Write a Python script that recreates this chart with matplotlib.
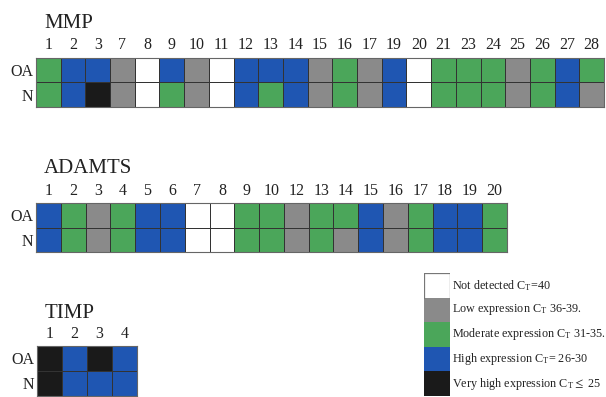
import matplotlib
matplotlib.use("Agg")
import matplotlib.pyplot as plt
import numpy as np
from matplotlib.colors import ListedColormap, BoundaryNorm

plt.rcParams['font.family'] = ['Liberation Serif', 'DejaVu Serif']
plt.rcParams['mathtext.fontset'] = 'stix'

# Expression levels: 0 not detected, 1 low, 2 moderate, 3 high, 4 very high
mmp_labels = ['1', '2', '3', '7', '8', '9', '10', '11', '12', '13', '14', '15',
              '16', '17', '19', '20', '21', '23', '24', '25', '26', '27', '28']
mmp_oa = [2, 3, 3, 1, 0, 3, 1, 0, 3, 3, 3, 1, 2, 1, 3, 0, 2, 2, 2, 1, 2, 3, 2]
mmp_n = [2, 3, 4, 1, 0, 2, 1, 0, 3, 2, 3, 1, 2, 1, 3, 0, 2, 2, 2, 1, 2, 3, 1]

adamts_labels = ['1', '2', '3', '4', '5', '6', '7', '8', '9', '10', '12', '13',
                 '14', '15', '16', '17', '18', '19', '20']
adamts_oa = [3, 2, 1, 2, 3, 3, 0, 0, 2, 2, 1, 2, 2, 3, 1, 2, 3, 3, 2]
adamts_n = [3, 2, 1, 2, 3, 3, 0, 0, 2, 2, 1, 2, 1, 3, 1, 2, 3, 3, 2]

timp_labels = ['1', '2', '3', '4']
timp_oa = [4, 3, 4, 3]
timp_n = [4, 3, 3, 3]

row_labels = ['OA', 'N']
legend_labels = [r'Not detected C$_\mathregular{T}$=40',
                 r'Low expression C$_\mathregular{T}$ 36-39.',
                 r'Moderate expression C$_\mathregular{T}$ 31-35.',
                 r'High expression C$_\mathregular{T}$= 26-30',
                 r'Very high expression C$_\mathregular{T}$$\leq$ 25']

colors = ['#ffffff', '#8a8a8a', '#4ba65a', '#1f56b2', '#1a1a1a']
cmap = ListedColormap(colors)
norm = BoundaryNorm(np.arange(-0.5, 5.5, 1), cmap.N)

W, H = 606, 397
fig = plt.figure(figsize=(W / 100, H / 100), dpi=100)


def px_axes(x0, y0, x1, y1):
    return fig.add_axes([x0 / W, 1 - y1 / H, (x1 - x0) / W, (y1 - y0) / H])


def heat(x0, y0, x1, y1, labels, oa, n, title, ty):
    ax = px_axes(x0, y0, x1, y1)
    data = np.array([oa, n])
    ax.pcolormesh(data, cmap=cmap, norm=norm, edgecolors='#333333', linewidth=0.7)
    ax.set_xlim(0, len(labels))
    ax.set_ylim(2, 0)
    ax.set_xticks(np.arange(len(labels)) + 0.5)
    ax.set_xticklabels(labels, fontsize=11.5, color='#222222')
    ax.xaxis.tick_top()
    ax.set_yticks([0.5, 1.5])
    ax.set_yticklabels(row_labels, fontsize=11.5, color='#222222')
    ax.tick_params(length=0, pad=2)
    ax.tick_params(axis='x', pad=3)
    for s in ax.spines.values():
        s.set_color('#666666')
        s.set_linewidth(0.8)
    fig.text((x0 + 8) / W, 1 - ty / H, title, fontsize=15, color='#222222',
             ha='left', va='baseline')
    return ax


heat(36, 57.5, 604, 107, mmp_labels, mmp_oa, mmp_n, 'MMP', 28)
heat(36, 203, 507, 252, adamts_labels, adamts_oa, adamts_n, 'ADAMTS', 173)
heat(37, 346, 137, 395.5, timp_labels, timp_oa, timp_n, 'TIMP', 318)

# Legend
lax = px_axes(424, 273, 450, 396)
lax.pcolormesh(np.arange(5).reshape(-1, 1), cmap=cmap, norm=norm,
               edgecolors='none')
lax.set_xlim(0, 1)
lax.set_ylim(5, 0)
lax.set_xticks([])
lax.set_yticks([])
for s in lax.spines.values():
    s.set_visible(False)
lax.plot([0, 0, 1, 1], [1, 0, 0, 1], color='#777777', lw=0.9)
for i, lab in enumerate(legend_labels):
    lax.text(1.08, i + 0.5, lab, fontsize=8.7, color='#222222',
             ha='left', va='center', transform=lax.transData, clip_on=False)

fig.savefig('out.png', dpi=100)
